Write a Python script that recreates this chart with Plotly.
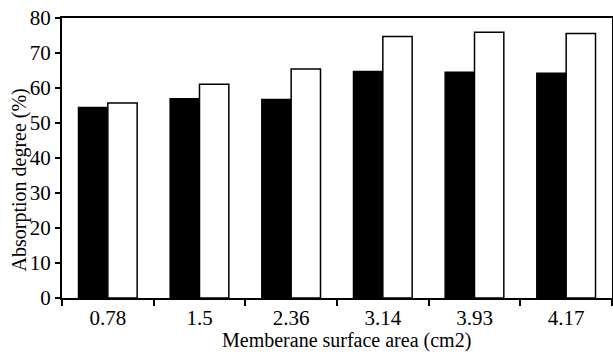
import plotly.graph_objects as go

categories = ["0.78", "1.5", "2.36", "3.14", "3.93", "4.17"]
series_black = [54.4, 56.9, 56.7, 64.7, 64.5, 64.2]
series_white = [55.7, 61.1, 65.4, 74.7, 75.9, 75.6]
y_ticks = [0, 10, 20, 30, 40, 50, 60, 70, 80]
x_title = "Memberane surface area (cm2)"
y_title = "Absorption degree (%)"

font_family = "Liberation Serif, Times New Roman, serif"

fig = go.Figure()
fig.add_trace(go.Bar(x=categories, y=series_black, name="A",
                     marker=dict(color="black", line=dict(color="black", width=1.5))))
fig.add_trace(go.Bar(x=categories, y=series_white, name="B",
                     marker=dict(color="white", line=dict(color="black", width=1.5))))

fig.update_layout(
    width=613, height=356,
    margin=dict(l=62, r=1, t=18, b=58, autoexpand=False),
    paper_bgcolor="white", plot_bgcolor="white",
    barmode="group", bargap=0.36, bargroupgap=0,
    showlegend=False,
    font=dict(family=font_family, size=21, color="black"),
    xaxis=dict(
        type="category", automargin=False,
        showline=True, linecolor="black", linewidth=2, mirror=True,
        ticks="outside", tickson="boundaries", ticklen=6, tickcolor="black", tickwidth=2,
        tickfont=dict(size=21),
        showgrid=False,
    ),
    yaxis=dict(
        range=[0, 80], tickvals=y_ticks, automargin=False,
        showline=True, linecolor="black", linewidth=2, mirror=True,
        ticks="outside", ticklen=5, tickcolor="black", tickwidth=2,
        tickfont=dict(size=21),
        showgrid=False, zeroline=False,
    ),
    annotations=[
        dict(text=x_title, xref="paper", yref="paper", x=0.518, y=-0.2,
             xanchor="center", yanchor="bottom", showarrow=False,
             font=dict(size=20)),
        dict(text=y_title, xref="paper", yref="paper", x=-0.078, y=0.42,
             xanchor="center", yanchor="middle", textangle=-90, showarrow=False,
             font=dict(size=20)),
    ],
)

fig.write_html("out.html", config={"displayModeBar": False},
               post_script="document.body.style.margin='0';")
